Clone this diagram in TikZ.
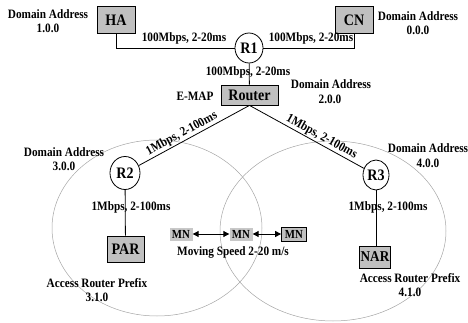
\documentclass[tikz,border=0pt]{standalone}
\usepackage{fontspec}
\setmainfont{Liberation Serif}[FakeStretch=0.88]
\usetikzlibrary{arrows.meta,shapes.geometric}
\definecolor{boxgray}{RGB}{192,192,192}
\definecolor{mngray}{RGB}{200,200,200}
\definecolor{ringgray}{RGB}{165,165,165}
\tikzset{
  box/.style={draw, fill=boxgray, line width=0.8pt, inner sep=0pt,
    font=\bfseries\fontsize{16}{16}\selectfont, minimum width=38pt, minimum height=27pt},
  rnode/.style={draw, ellipse, fill=white, line width=0.8pt, inner sep=0pt,
    font=\bfseries\fontsize{16}{16}\selectfont, minimum width=28pt, minimum height=30pt},
  lbl/.style={inner sep=0pt, font=\bfseries\fontsize{12.8}{13}\selectfont},
  mn/.style={fill=mngray, inner sep=0pt, font=\bfseries\fontsize{12.3}{12}\selectfont,
    minimum width=23pt, minimum height=13pt},
  link/.style={line width=0.8pt},
  ring/.style={ringgray, line width=0.5pt},
  twoway/.style={line width=1pt, {Triangle[length=6pt,width=6pt]}-{Triangle[length=6pt,width=6pt]}}
}
\begin{document}
\begin{tikzpicture}[x=1pt,y=-1pt]
\useasboundingbox (0,0) rectangle (468,323);
% domains
\draw[ring] (157,228) ellipse [x radius=105pt, y radius=88pt];
\draw[ring] (333,231) ellipse [x radius=113pt, y radius=90pt];
% nodes
\node[box] (HA) at (116,20) {HA};
\node[box] (CN) at (354,20) {CN};
\node[rnode] (R1) at (249,48) {R1};
\node[box, minimum width=57pt, minimum height=20pt] (Router) at (249.5,95) {Router};
\node[rnode, minimum width=30pt, minimum height=33pt] (R2) at (125,173) {R2};
\node[rnode, minimum width=26pt, minimum height=30pt] (R3) at (376,175) {R3};
\node[box, minimum width=37pt, minimum height=26pt] (PAR) at (125.5,249) {PAR};
\node[box, minimum width=31pt, minimum height=22pt, font=\bfseries\fontsize{15}{15}\selectfont] (NAR) at (375,257) {NAR};
\node[mn] (MN1) at (181,234) {MN};
\node[mn] (MN2) at (241,234) {MN};
\node[mn, draw, line width=0.8pt, fill=boxgray, minimum width=25pt, minimum height=14pt] (MN3) at (294,234) {MN};
% connectors
\draw[link] (HA.south) |- (R1.west);
\draw[link] (R1.east) -| (CN.south);
\draw[link] (R1) -- (Router);
\draw[link] (Router.south) -- node[lbl, sloped, above, pos=0.58, inner sep=1pt] (l4) {1Mbps, 2-100ms} (R2);
\draw[link] (Router.south) -- node[lbl, sloped, above, pos=0.6, inner sep=1pt] (l5) {1Mbps, 2-100ms} (R3);
\draw[link] (R2) -- (PAR);
\draw[link] (R3.south) -- (R3.south |- NAR.north);
\draw[twoway] (MN1) -- (MN2);
\draw[twoway] (MN2) -- (MN3);
% labels
\node[lbl] (d1a) at (48,14) {Domain Address};
\node[lbl] (d1b) at (48,28) {1.0.0};
\node[lbl] (d0a) at (418,16) {Domain Address};
\node[lbl] (d0b) at (418,30) {0.0.0};
\node[lbl] (d2a) at (331,84) {Domain Address};
\node[lbl] (d2b) at (330,99) {2.0.0};
\node[lbl] (d3a) at (64,152) {Domain Address};
\node[lbl] (d3b) at (64,166) {3.0.0};
\node[lbl] (d4a) at (428,148) {Domain Address};
\node[lbl] (d4b) at (428,163) {4.0.0};
\node[lbl] (l1) at (184,38) {100Mbps, 2-20ms};
\node[lbl] (l2) at (311,38) {100Mbps, 2-20ms};
\node[lbl] (l3) at (248,72) {100Mbps, 2-20ms};
\node[lbl] (emap) at (195,96) {E-MAP};
\node[lbl] (l6) at (131,207) {1Mbps, 2-100ms};
\node[lbl] (l7) at (388,207) {1Mbps, 2-100ms};
\node[lbl] (p3a) at (97,283) {Access Router Prefix};
\node[lbl] (p3b) at (97,297) {3.1.0};
\node[lbl] (p4a) at (410,278) {Access Router Prefix};
\node[lbl] (p4b) at (410,292) {4.1.0};
\node[lbl] (spd) at (233,252) {Moving Speed 2-20 m/s};
\end{tikzpicture}
\end{document}
